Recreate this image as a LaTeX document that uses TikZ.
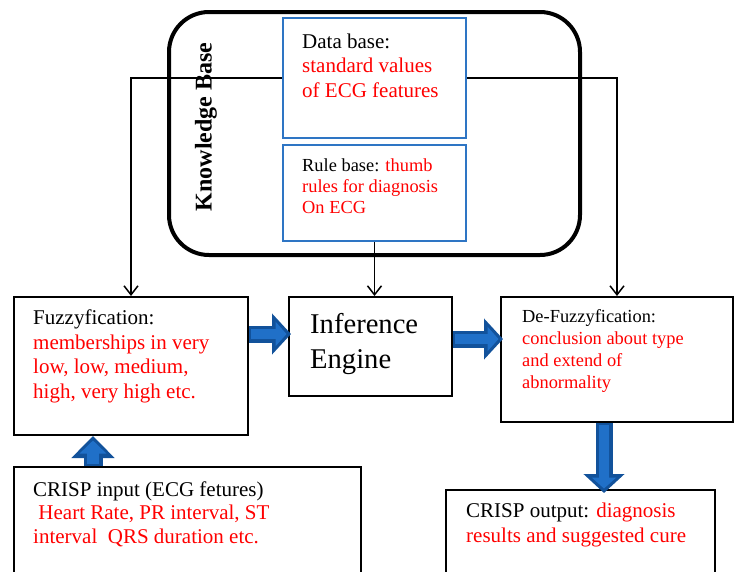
\documentclass[tikz,border=0pt]{standalone}
\usepackage{fontspec}
\setmainfont{Liberation Serif}
\usetikzlibrary{arrows.meta}
\definecolor{kbblue}{RGB}{46,117,196}
\definecolor{fatblue}{RGB}{18,82,155}
\definecolor{fatcore}{RGB}{32,112,200}

\begin{document}
\begin{tikzpicture}[x=1pt,y=-1pt,
  box/.style={draw, line width=2pt, anchor=north west, inner sep=0pt},
  dbox/.style={draw=kbblue, line width=2pt, anchor=north west, inner sep=0pt},
  txt/.style={anchor=base west, inner sep=0pt, align=left, font=\fontsize{21}{24.5}\selectfont},
  small/.style={font=\fontsize{18.4}{20.8}\selectfont},
  thin arrow/.style={line width=1.5pt, -{Straight Barb[length=9pt,width=14pt]}},
  fat arrow/.style={line width=17pt, fatblue, -{Triangle[length=19pt,width=40pt]}},
  fat core/.style={line width=10pt, fatcore, -{Triangle[length=11pt,width=24pt]}, shorten >=4.5pt, shorten <=2pt}]
\useasboundingbox (0,0) rectangle (736,571);
\clip (0,0) rectangle (736,571);

\node[box, line width=4pt, rounded corners=40pt, minimum width=411, minimum height=243] (kb) at (167,10) {};
\node[rotate=90, inner sep=0pt, font=\bfseries\fontsize{24}{28}\selectfont] (kb-label) at (206,127) {Knowledge Base};
\node[dbox, minimum width=183, minimum height=120] (db) at (282,17) {};
\node[dbox, minimum width=183, minimum height=96] (rb) at (282,144) {};

\node[box, minimum width=234, minimum height=138] (fuzzy) at (13,296) {};
\node[box, minimum width=163, minimum height=99] (ie) at (288,296) {};
\node[box, minimum width=232, minimum height=125] (defuzz) at (500,296) {};
\node[box, minimum width=347, minimum height=120] (crispin) at (13,466) {};
\node[box, minimum width=269, minimum height=100] (crispout) at (445,489) {};

\node[txt] (db-txt) at (302,97) {Data base:\\\textcolor{red}{standard values}\\\textcolor{red}{of ECG features}};
\node[txt, small] (rb-txt) at (302,213) {Rule base: \textcolor{red}{thumb}\\\textcolor{red}{rules for diagnosis}\\\textcolor{red}{On ECG}};
\node[txt] (fuzzy-txt) at (33,398) {Fuzzyfication:\\\textcolor{red}{memberships in very}\\\textcolor{red}{low, low, medium,}\\\textcolor{red}{high, very high etc.}};
\node[txt, font=\fontsize{28.6}{35}\selectfont] (ie-txt) at (310,368) {Inference\\Engine};
\node[txt, small, font=\fontsize{18.4}{21.7}\selectfont] (defuzz-txt) at (522,388) {De-Fuzzyfication:\\\textcolor{red}{conclusion about type}\\\textcolor{red}{and extend of}\\\textcolor{red}{abnormality}};
\node[txt, font=\fontsize{21}{23.5}\selectfont] (crispin-txt) at (33,543) {CRISP input (ECG fetures)\\\textcolor{red}{\ Heart Rate, PR interval, ST}\\\textcolor{red}{interval\ \ QRS duration etc.}};
\node[txt, font=\fontsize{21}{25}\selectfont] (crispout-txt) at (466,542) {CRISP output: \textcolor{red}{diagnosis}\\\textcolor{red}{results and suggested cure}};

\draw[thin arrow] (db.west) -| (fuzzy.north);
\draw[thin arrow] (db.east) -| (defuzz.north);
\draw[thin arrow] (rb.south) -- (rb.south |- ie.north);

\draw[fat arrow] ([yshift=32pt]fuzzy.east) -- ([xshift=3pt,yshift=12.5pt]ie.west);
\draw[fat core] ([yshift=32pt]fuzzy.east) -- ([xshift=3pt,yshift=12.5pt]ie.west);
\draw[fat arrow] ([yshift=7.5pt]ie.east) -- ([xshift=3pt,yshift=20.5pt]defuzz.west);
\draw[fat core] ([yshift=7.5pt]ie.east) -- ([xshift=3pt,yshift=20.5pt]defuzz.west);
\draw[fat arrow, line width=19pt, -{Triangle[length=22pt,width=42pt]}] ([xshift=80pt]crispin.north west) -- ([xshift=80pt]fuzzy.south west);
\draw[fat core, line width=12pt, -{Triangle[length=13pt,width=26pt]}] ([xshift=80pt]crispin.north west) -- ([xshift=80pt]fuzzy.south west);
\draw[fat arrow] ([xshift=104pt]defuzz.south west) -- ([xshift=159pt,yshift=-4pt]crispout.north west);
\draw[fat core] ([xshift=104pt]defuzz.south west) -- ([xshift=159pt,yshift=-4pt]crispout.north west);
\end{tikzpicture}
\end{document}
